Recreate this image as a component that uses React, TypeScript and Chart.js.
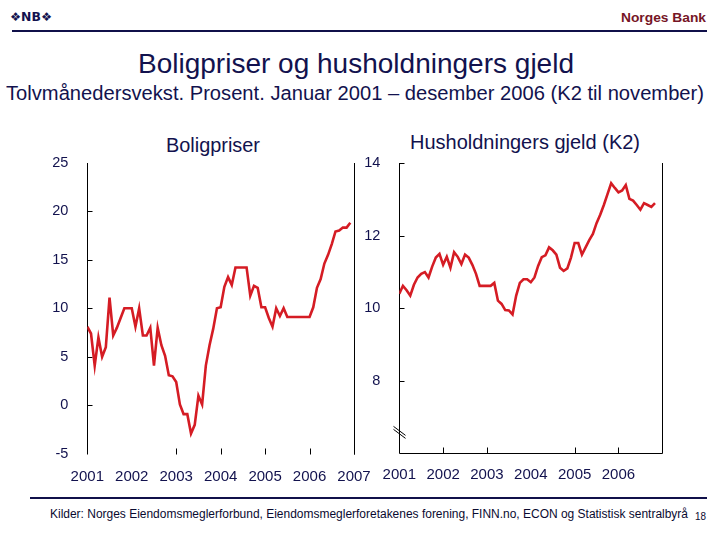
import React, { useEffect, useLayoutEffect, useRef } from "react";
import { Chart, registerables } from "chart.js";

Chart.register(...registerables);

// ---- data ----
const leftYears = ["2001", "2002", "2003", "2004", "2005", "2006", "2007"];
const rightYears = ["2001", "2002", "2003", "2004", "2005", "2006"];
const leftYTicks = [-5, 0, 5, 10, 15, 20, 25];
const leftYTickMarks = [20, 15, 10, 5, 0];
const rightYTicks = [8, 10, 12, 14];
const leftXTickMonths = [24, 36, 48, 60, 72];
const rightXTickMonths = [12, 24, 48, 60];

// Boligpriser, 12-month growth, Jan 2001 - Dec 2006
const boligpriser = [
  8.1, 7.4, 4.1, 7.0, 5.0, 6.0, 11.1, 7.2, 8.0, 9.0, 10.0, 10.0,
  10.0, 8.1, 10.0, 7.2, 7.2, 8.0, 4.1, 8.0, 6.2, 5.1, 3.1, 3.0,
  2.4, 0.1, -0.9, -0.9, -2.9, -2.0, 1.0, 0.1, 4.1, 6.2, 7.9, 10.0,
  10.1, 12.2, 13.2, 12.4, 14.2, 14.2, 14.2, 14.2, 11.3, 12.3, 12.1, 10.1,
  10.1, 9.0, 8.1, 10.0, 9.2, 10.0, 9.1, 9.1, 9.1, 9.1, 9.1, 9.1,
  9.1, 10.1, 12.1, 13.0, 14.6, 15.5, 16.6, 17.9, 18.0, 18.3, 18.3, 18.8,
];

// Husholdningers gjeld (K2), Jan 2001 - Nov 2006
const gjeld = [
  10.4, 10.62, 10.5, 10.35, 10.65, 10.85, 10.95, 11.0, 10.85, 11.15, 11.4, 11.5,
  11.2, 11.42, 11.12, 11.55, 11.42, 11.22, 11.48, 11.4, 11.2, 10.95, 10.62, 10.62,
  10.62, 10.62, 10.7, 10.21, 10.12, 9.95, 9.94, 9.83, 10.35, 10.7, 10.8, 10.8,
  10.72, 10.85, 11.17, 11.41, 11.46, 11.68, 11.6, 11.48, 11.12, 11.03, 11.1, 11.4,
  11.8, 11.8, 11.48, 11.68, 11.88, 12.05, 12.35, 12.58, 12.85, 13.15, 13.45, 13.32,
  13.2, 13.25, 13.4, 13.02, 12.97, 12.85, 12.72, 12.9, 12.85, 12.8, 12.9,
];

const NAVY = "#12124e";
const RED = "#d51c24";
const FONT = "'Liberation Sans', Arial, sans-serif";

const framePlugin = {
  id: "frame",
  beforeDatasetsDraw(chart: any, _args: any, opts: any) {
    const { ctx, chartArea: a, scales } = chart;
    const xs = scales.x;
    const ys = scales.y;
    const L = Math.round(a.left) + 0.5;
    const R = Math.round(a.right) + 0.5;
    const B = Math.round(a.bottom) + 0.5;
    const T = Math.round(a.top);
    ctx.save();
    ctx.strokeStyle = "#000";
    ctx.lineWidth = 1;
    ctx.beginPath();
    ctx.moveTo(L, T);
    ctx.lineTo(L, B);
    ctx.moveTo(R, T);
    ctx.lineTo(R, B);
    if (opts.bottomLine) {
      ctx.moveTo(L, B);
      ctx.lineTo(R, B);
    }
    for (const m of opts.xTicks) {
      const px = Math.round(xs.getPixelForValue(m)) + 0.5;
      ctx.moveTo(px, B);
      ctx.lineTo(px, B - 6);
    }
    for (const v of opts.yTicks) {
      const py = Math.round(ys.getPixelForValue(v)) + 0.5;
      ctx.moveTo(L, py);
      ctx.lineTo(L + 5, py);
    }
    ctx.stroke();
    if (opts.breakAt !== undefined) {
      const py = ys.getPixelForValue(opts.breakAt);
      ctx.beginPath();
      ctx.moveTo(L - 6, py - 7);
      ctx.lineTo(L + 6, py + 2);
      ctx.moveTo(L - 6, py - 4);
      ctx.lineTo(L + 6, py + 5);
      ctx.stroke();
    }
    ctx.restore();
  },
};

function makeChart(
  canvas: HTMLCanvasElement,
  values: number[],
  cfg: {
    yMin: number;
    yMax: number;
    yTicks: number[];
    years: string[];
    yWidth: number;
    xHeight: number;
    xPad: number;
    padding: any;
    frame: any;
  }
) {
  return new Chart(canvas, {
    type: "line",
    data: {
      datasets: [
        {
          data: values.map((v, i) => ({ x: i, y: v })),
          borderColor: RED,
          borderWidth: 2.6,
          pointRadius: 0,
          tension: 0,
          fill: false,
        },
      ],
    },
    options: {
      animation: false,
      responsive: false,
      layout: { padding: cfg.padding },
      plugins: {
        legend: { display: false },
        tooltip: { enabled: false },
        frame: cfg.frame,
      } as any,
      scales: {
        x: {
          type: "linear",
          min: 0,
          max: 72,
          grid: { display: false },
          border: { display: false },
          afterBuildTicks: (s: any) => {
            s.ticks = cfg.years.map((_, i) => ({ value: i * 12 }));
          },
          afterFit: (s: any) => {
            s.height = cfg.xHeight;
            s.paddingLeft = 0;
            s.paddingRight = 0;
            s.paddingTop = 0;
            s.paddingBottom = 0;
          },
          ticks: {
            autoSkip: false,
            maxRotation: 0,
            padding: cfg.xPad,
            color: NAVY,
            font: { family: FONT, size: 15 },
            callback: (v: any) => cfg.years[Math.round(Number(v) / 12)] ?? "",
          },
        },
        y: {
          type: "linear",
          min: cfg.yMin,
          max: cfg.yMax,
          grid: { display: false },
          border: { display: false },
          afterBuildTicks: (s: any) => {
            s.ticks = cfg.yTicks.map((v) => ({ value: v }));
          },
          afterFit: (s: any) => {
            s.width = cfg.yWidth;
            s.paddingTop = 0;
            s.paddingBottom = 0;
            s.paddingLeft = 0;
            s.paddingRight = 0;
          },
          ticks: {
            padding: 11,
            color: NAVY,
            font: { family: FONT, size: 14.5 },
          },
        },
      },
    },
    plugins: [framePlugin],
  } as any);
}

function FitText(props: {
  text: string;
  x: number;
  y: number;
  w: number;
  size: number;
  color?: string;
  weight?: string;
  family?: string;
}) {
  const ref = useRef<HTMLSpanElement>(null);
  useLayoutEffect(() => {
    const el = ref.current;
    if (!el) return;
    el.style.transform = "none";
    const nat = el.getBoundingClientRect().width;
    if (nat > 0) el.style.transform = `scaleX(${props.w / nat})`;
  }, [props.text, props.w]);
  return (
    <span
      ref={ref}
      style={{
        position: "absolute",
        left: props.x,
        top: props.y,
        fontSize: props.size,
        lineHeight: `${props.size}px`,
        whiteSpace: "nowrap",
        transformOrigin: "left top",
        fontFamily: props.family ?? FONT,
        fontWeight: (props.weight as any) ?? "normal",
        color: props.color ?? NAVY,
      }}
    >
      {props.text}
    </span>
  );
}

export default function App() {
  const leftRef = useRef<HTMLCanvasElement>(null);
  const rightRef = useRef<HTMLCanvasElement>(null);

  useEffect(() => {
    const left = makeChart(leftRef.current!, boligpriser, {
      yMin: -5,
      yMax: 25,
      yTicks: leftYTicks,
      years: leftYears,
      yWidth: 87.3,
      xHeight: 36,
      xPad: 6,
      padding: { top: 12.5, right: 26, bottom: 0, left: 0 },
      frame: { xTicks: leftXTickMonths, yTicks: leftYTickMarks, bottomLine: false },
    });
    const right = makeChart(rightRef.current!, gjeld, {
      yMin: 6,
      yMax: 14,
      yTicks: rightYTicks,
      years: rightYears,
      yWidth: 34.3,
      xHeight: 36.7,
      xPad: 5,
      padding: { top: 13.3, right: 22.7, bottom: 0, left: 0 },
      frame: { xTicks: rightXTickMonths, yTicks: rightYTicks, bottomLine: true, breakAt: 6.55 },
    });
    return () => {
      left.destroy();
      right.destroy();
    };
  }, []);

  return (
    <div
      style={{
        position: "absolute",
        left: 0,
        top: 0,
        width: 720,
        height: 540,
        background: "#fff",
        overflow: "hidden",
      }}
    >
      <FitText text="❖NB❖" x={10} y={11} w={42} size={12} weight="bold" family="'DejaVu Sans', sans-serif" />
      <FitText text="Norges Bank" x={621} y={10.5} w={85} size={13} weight="bold" color="#761526" />
      <div style={{ position: "absolute", left: 12, top: 30, width: 695, height: 2, background: "#10104a" }} />
      <FitText text="Boligpriser og husholdningers gjeld" x={138} y={49.5} w={436} size={28} />
      <FitText
        text="Tolvmånedersvekst. Prosent. Januar 2001 – desember 2006 (K2 til november)"
        x={6}
        y={84}
        w={698}
        size={19.6}
      />
      <FitText text="Boligpriser" x={166} y={134.6} w={94} size={20} />
      <FitText text="Husholdningers gjeld (K2)" x={410} y={132} w={230} size={20} />
      <canvas
        ref={leftRef}
        width={380}
        height={340}
        style={{ position: "absolute", left: 0, top: 150, width: 380, height: 340 }}
      />
      <canvas
        ref={rightRef}
        width={320}
        height={340}
        style={{ position: "absolute", left: 365, top: 150, width: 320, height: 340 }}
      />
      <div style={{ position: "absolute", left: 30, top: 497, width: 677, height: 2, background: "#10104a" }} />
      <FitText
        text="Kilder: Norges Eiendomsmeglerforbund, Eiendomsmeglerforetakenes forening, FINN.no, ECON og Statistisk sentralbyrå"
        x={50}
        y={508}
        w={638}
        size={12.5}
        color="#0a0a30"
      />
      <FitText text="18" x={695} y={511.5} w={11} size={10} color="#0a0a30" />
    </div>
  );
}
